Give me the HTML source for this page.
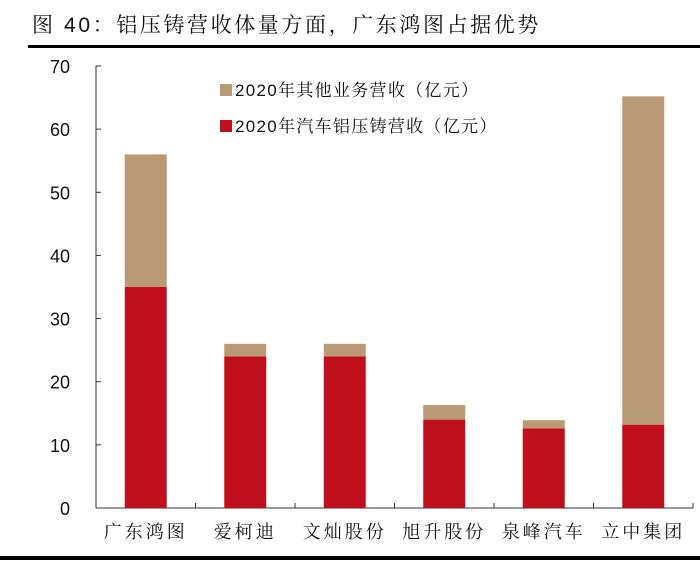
<!DOCTYPE html>
<html><head><meta charset="utf-8"><style>
body{margin:0;background:#fff;width:700px;height:560px;overflow:hidden;font-family:"Liberation Sans","Noto Serif CJK SC","Noto Sans CJK SC",serif;}
</style></head><body>
<svg width="700" height="560">
<text x="32" y="32" font-size="21" letter-spacing="2.6" fill="#111">图 40：铝压铸营收体量方面，广东鸿图占据优势</text>
<rect x="28" y="45" width="672" height="3" fill="#000"/>
<rect x="0" y="556" width="700" height="4" fill="#000"/>
<g id="plot"></g>
<g>
<rect x="220" y="84" width="12" height="12" fill="#b99a74"/>
<text x="235" y="96" font-size="17" letter-spacing="1.3" fill="#111">2020年其他业务营收（亿元）</text>
<rect x="220" y="120" width="12" height="12" fill="#c0101e"/>
<text x="235" y="132" font-size="17" letter-spacing="1.3" fill="#111">2020年汽车铝压铸营收（亿元）</text>
</g>
</svg>
<script>
const categories=["广东鸿图","爱柯迪","文灿股份","旭升股份","泉峰汽车","立中集团"];
const autoRevenue=[35,24,24,14,12.6,13.2];
const otherRevenue=[21,2,2,2.3,1.3,52];
const yTicks=[0,10,20,30,40,50,60,70];
const ns="http://www.w3.org/2000/svg";
const g=document.getElementById('plot');
const x0=96,x1=693,yBase=508,yTop=66,yMax=70;
const y=v=>yBase-(v/yMax)*(yBase-yTop);
const bw=(x1-x0)/categories.length;
const xc=i=>x0+bw*(i+0.5);
function mk(t,a){const e=document.createElementNS(ns,t);for(const k in a)e.setAttribute(k,a[k]);g.appendChild(e);return e;}
let e=mk('line',{x1:x0,y1:yTop,x2:x0,y2:yBase,stroke:'#333','stroke-width':1});


e=mk('line',{x1:x0,y1:yBase,x2:x1,y2:yBase,stroke:'#333','stroke-width':1});


yTicks.forEach(v=>{
 let t=mk('line',{x1:x0,y1:y(v),x2:x0+5,y2:y(v),stroke:'#333'});
 
 
 let l=mk('text',{x:x0-26,y:y(v)+7,'font-size':18,'text-anchor':'end',fill:'#111'});
 l.textContent=v;
 
 
});
for(let i=0;i<=categories.length;i++){
 let t=mk('line',{x1:x0+bw*i,y1:yBase,x2:x0+bw*i,y2:yBase-5,stroke:'#333'});
 
 
}
categories.forEach((c,i)=>{
 const w=42,xl=xc(i)-w/2;
 let r=mk('rect',{x:xl,y:y(autoRevenue[i]),width:w,height:yBase-y(autoRevenue[i]),fill:'#c0101e'});
 
 
 const tot=autoRevenue[i]+otherRevenue[i];
 let r2=mk('rect',{x:xl,y:y(tot),width:w,height:y(autoRevenue[i])-y(tot),fill:'#b99a74'});
 
 
 let l=mk('text',{x:xc(i),y:538,'font-size':18,'text-anchor':'middle',fill:'#111','letter-spacing':'3'});
 l.textContent=c;
 
 
});
</script>
</body></html>
